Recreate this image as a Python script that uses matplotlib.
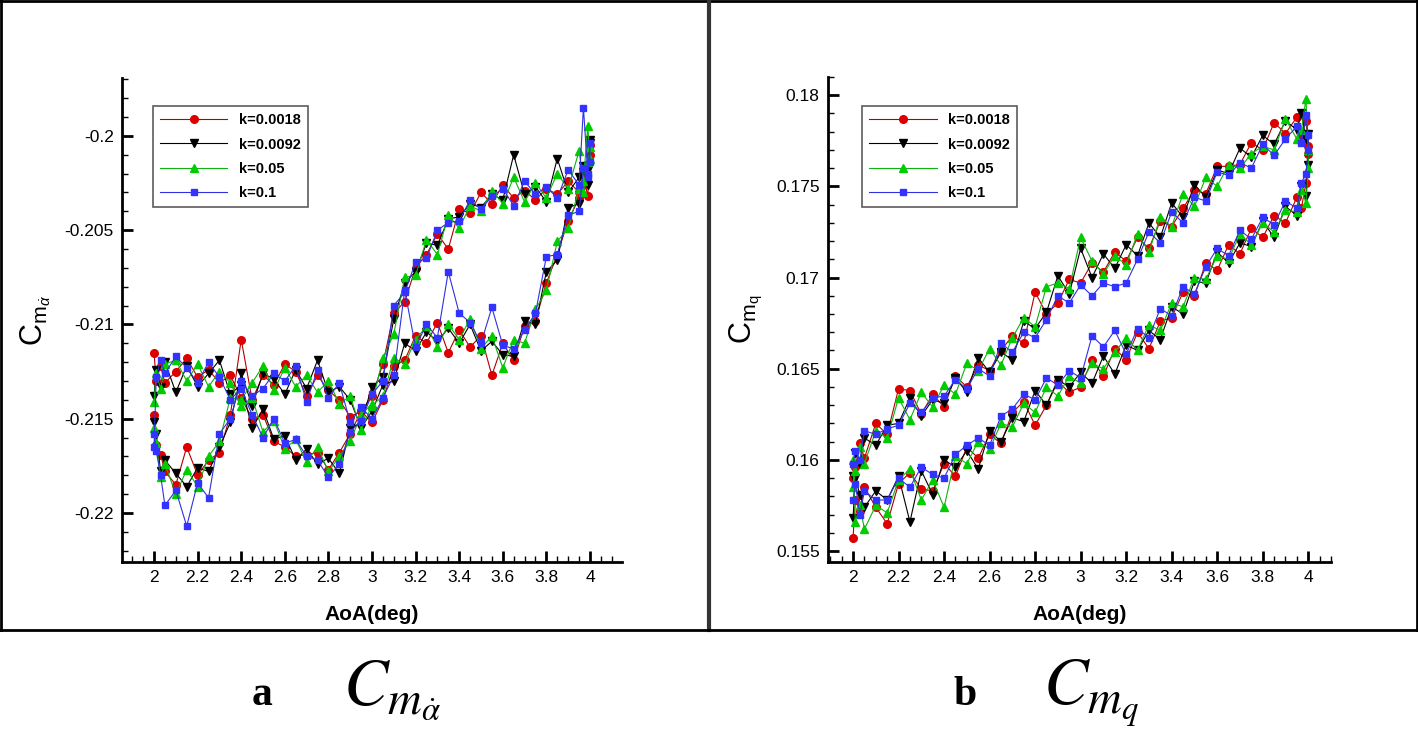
import matplotlib
matplotlib.use("Agg")
import matplotlib.pyplot as plt
from matplotlib.lines import Line2D
from matplotlib.ticker import MultipleLocator, FuncFormatter

plt.rcParams['font.family'] = ['Liberation Sans', 'DejaVu Sans']
plt.rcParams['mathtext.fontset'] = 'custom'
plt.rcParams['mathtext.rm'] = 'Liberation Sans'
plt.rcParams['mathtext.it'] = 'Liberation Sans:italic'

# AoA samples (deg), up-stroke 2 -> 4; down-stroke runs back over the same points
aoa_up = [2.00, 2.01, 2.03, 2.05, 2.10, 2.15, 2.20, 2.25, 2.30, 2.35, 2.40, 2.45,
          2.50, 2.55, 2.60, 2.65, 2.70, 2.75, 2.80, 2.85, 2.90, 2.95, 3.00, 3.05,
          3.10, 3.15, 3.20, 3.25, 3.30, 3.35, 3.40, 3.45, 3.50, 3.55, 3.60, 3.65,
          3.70, 3.75, 3.80, 3.85, 3.90, 3.95, 3.97, 3.99, 4.00]
aoa_down = aoa_up[::-1]

labels = ['k=0.0018', 'k=0.0092', 'k=0.05', 'k=0.1']

# ---- panel a : Cm_alpha_dot ----
cma_k0018_up = [-0.2115, -0.2130, -0.2122, -0.2131, -0.2125, -0.2118, -0.2128, -0.2124, -0.2131,
                -0.2127, -0.2139, -0.2150, -0.2148, -0.2162, -0.2165, -0.2170, -0.2169, -0.2168,
                -0.2177, -0.2168, -0.2158, -0.2146, -0.2138, -0.2121, -0.2094, -0.2088, -0.2070,
                -0.2063, -0.2052, -0.2060, -0.2039, -0.2041, -0.2030, -0.2036, -0.2026, -0.2033,
                -0.2029, -0.2034, -0.2028, -0.2031, -0.2024, -0.2030, -0.2021, -0.2032, -0.2010]
cma_k0018_down = [-0.2005, -0.2015, -0.2026, -0.2033, -0.2045, -0.2063, -0.2078, -0.2098, -0.2101,
                  -0.2119, -0.2110, -0.2127, -0.2106, -0.2112, -0.2103, -0.2115, -0.2099, -0.2110,
                  -0.2106, -0.2119, -0.2122, -0.2140, -0.2152, -0.2146, -0.2149, -0.2140, -0.2135,
                  -0.2127, -0.2138, -0.2125, -0.2121, -0.2132, -0.2127, -0.2140, -0.2108, -0.2148,
                  -0.2168, -0.2172, -0.2180, -0.2165, -0.2185, -0.2178, -0.2169, -0.2164, -0.2148]
cma_k0092_up = [-0.2138, -0.2124, -0.2133, -0.2120, -0.2136, -0.2122, -0.2133, -0.2126, -0.2119,
                -0.2137, -0.2132, -0.2155, -0.2145, -0.2161, -0.2159, -0.2172, -0.2166, -0.2174,
                -0.2171, -0.2179, -0.2155, -0.2152, -0.2133, -0.2128, -0.2097, -0.2078, -0.2072,
                -0.2057, -0.2058, -0.2044, -0.2043, -0.2036, -0.2038, -0.2031, -0.2034, -0.2010,
                -0.2031, -0.2027, -0.2035, -0.2012, -0.2030, -0.2022, -0.2016, -0.2026, -0.2004]
cma_k0092_down = [-0.2002, -0.2018, -0.2019, -0.2036, -0.2038, -0.2066, -0.2072, -0.2100, -0.2098,
                  -0.2117, -0.2116, -0.2109, -0.2114, -0.2100, -0.2110, -0.2102, -0.2109, -0.2104,
                  -0.2114, -0.2110, -0.2130, -0.2132, -0.2146, -0.2155, -0.2140, -0.2133, -0.2136,
                  -0.2119, -0.2134, -0.2124, -0.2137, -0.2129, -0.2126, -0.2143, -0.2126, -0.2152,
                  -0.2165, -0.2178, -0.2176, -0.2186, -0.2179, -0.2172, -0.2178, -0.2158, -0.2152]
cma_k005_up = [-0.2141, -0.2126, -0.2134, -0.2121, -0.2119, -0.2130, -0.2121, -0.2133, -0.2125,
               -0.2131, -0.2143, -0.2139, -0.2157, -0.2151, -0.2166, -0.2161, -0.2173, -0.2165,
               -0.2178, -0.2170, -0.2162, -0.2148, -0.2142, -0.2118, -0.2105, -0.2075, -0.2074,
               -0.2055, -0.2063, -0.2042, -0.2049, -0.2037, -0.2040, -0.2029, -0.2036, -0.2022,
               -0.2035, -0.2025, -0.2033, -0.2020, -0.2028, -0.2008, -0.2024, -0.1995, -0.2012]
cma_k005_down = [-0.2006, -0.2014, -0.2030, -0.2028, -0.2049, -0.2056, -0.2082, -0.2092, -0.2110,
                 -0.2108, -0.2123, -0.2106, -0.2113, -0.2097, -0.2108, -0.2100, -0.2112, -0.2101,
                 -0.2108, -0.2121, -0.2118, -0.2138, -0.2143, -0.2156, -0.2138, -0.2142, -0.2130,
                 -0.2136, -0.2127, -0.2133, -0.2123, -0.2135, -0.2122, -0.2131, -0.2140, -0.2139,
                 -0.2162, -0.2170, -0.2186, -0.2177, -0.2190, -0.2174, -0.2181, -0.2163, -0.2155]
cma_k01_up = [-0.2165, -0.2128, -0.2119, -0.2126, -0.2117, -0.2123, -0.2131, -0.2120, -0.2128,
              -0.2140, -0.2134, -0.2148, -0.2160, -0.2150, -0.2163, -0.2161, -0.2170, -0.2172,
              -0.2181, -0.2174, -0.2157, -0.2151, -0.2137, -0.2130, -0.2090, -0.2083, -0.2067,
              -0.2065, -0.2050, -0.2046, -0.2045, -0.2034, -0.2039, -0.2032, -0.2028, -0.2037,
              -0.2024, -0.2031, -0.2027, -0.2033, -0.2018, -0.2026, -0.1985, -0.2020, -0.2014]
cma_k01_down = [-0.2004, -0.2022, -0.2017, -0.2040, -0.2042, -0.2063, -0.2064, -0.2094, -0.2103,
                -0.2113, -0.2111, -0.2091, -0.2110, -0.2099, -0.2094, -0.2072, -0.2107, -0.2100,
                -0.2112, -0.2082, -0.2127, -0.2139, -0.2150, -0.2144, -0.2152, -0.2131, -0.2139,
                -0.2124, -0.2141, -0.2122, -0.2130, -0.2126, -0.2134, -0.2138, -0.2130, -0.2150,
                -0.2158, -0.2192, -0.2184, -0.2207, -0.2188, -0.2196, -0.2180, -0.2167, -0.2158]

# ---- panel b : Cm_q ----
cmq_k0018_up = [0.1557, 0.1578, 0.1572, 0.1585, 0.1574, 0.1565, 0.1587, 0.1593, 0.1584,
                0.1583, 0.1598, 0.1591, 0.1607, 0.1601, 0.1614, 0.1609, 0.1626, 0.1632,
                0.1619, 0.1630, 0.1643, 0.1637, 0.1640, 0.1655, 0.1646, 0.1661, 0.1655,
                0.1670, 0.1661, 0.1676, 0.1678, 0.1692, 0.1690, 0.1708, 0.1704, 0.1718,
                0.1713, 0.1727, 0.1722, 0.1734, 0.1730, 0.1744, 0.1738, 0.1752, 0.1768]
cmq_k0018_down = [0.1772, 0.1786, 0.1778, 0.1788, 0.1779, 0.1785, 0.1770, 0.1774, 0.1762,
                  0.1761, 0.1761, 0.1746, 0.1748, 0.1738, 0.1728, 0.1731, 0.1716, 0.1722,
                  0.1709, 0.1714, 0.1703, 0.1708, 0.1697, 0.1699, 0.1686, 0.1680, 0.1692,
                  0.1664, 0.1668, 0.1660, 0.1649, 0.1652, 0.1640, 0.1646, 0.1629, 0.1636,
                  0.1625, 0.1638, 0.1639, 0.1614, 0.1620, 0.1601, 0.1609, 0.1596, 0.1590]
cmq_k0092_up = [0.1568, 0.1590, 0.1581, 0.1574, 0.1583, 0.1578, 0.1591, 0.1566, 0.1594,
                0.1581, 0.1600, 0.1596, 0.1605, 0.1595, 0.1616, 0.1610, 0.1623, 0.1621,
                0.1638, 0.1630, 0.1644, 0.1640, 0.1648, 0.1642, 0.1657, 0.1647, 0.1663,
                0.1660, 0.1671, 0.1666, 0.1684, 0.1680, 0.1698, 0.1697, 0.1714, 0.1708,
                0.1719, 0.1717, 0.1731, 0.1722, 0.1739, 0.1734, 0.1750, 0.1745, 0.1762]
cmq_k0092_down = [0.1779, 0.1776, 0.1790, 0.1781, 0.1786, 0.1773, 0.1778, 0.1766, 0.1771,
                  0.1757, 0.1759, 0.1744, 0.1751, 0.1733, 0.1741, 0.1722, 0.1730, 0.1712,
                  0.1718, 0.1705, 0.1713, 0.1700, 0.1716, 0.1691, 0.1701, 0.1681, 0.1672,
                  0.1676, 0.1655, 0.1659, 0.1648, 0.1656, 0.1637, 0.1645, 0.1631, 0.1633,
                  0.1624, 0.1634, 0.1620, 0.1619, 0.1608, 0.1612, 0.1598, 0.1604, 0.1591]
cmq_k005_up = [0.1600, 0.1566, 0.1575, 0.1562, 0.1575, 0.1571, 0.1589, 0.1595, 0.1578,
               0.1589, 0.1574, 0.1602, 0.1598, 0.1610, 0.1606, 0.1620, 0.1618, 0.1631,
               0.1626, 0.1640, 0.1635, 0.1646, 0.1642, 0.1653, 0.1650, 0.1659, 0.1667,
               0.1660, 0.1674, 0.1671, 0.1686, 0.1684, 0.1700, 0.1699, 0.1712, 0.1710,
               0.1724, 0.1718, 0.1730, 0.1725, 0.1737, 0.1736, 0.1748, 0.1741, 0.1760]
cmq_k005_down = [0.1770, 0.1798, 0.1781, 0.1776, 0.1787, 0.1770, 0.1772, 0.1768, 0.1760,
                 0.1762, 0.1750, 0.1755, 0.1739, 0.1746, 0.1728, 0.1733, 0.1714, 0.1724,
                 0.1707, 0.1712, 0.1702, 0.1709, 0.1722, 0.1694, 0.1697, 0.1695, 0.1673,
                 0.1678, 0.1667, 0.1652, 0.1661, 0.1649, 0.1653, 0.1636, 0.1641, 0.1629,
                 0.1637, 0.1622, 0.1634, 0.1612, 0.1616, 0.1598, 0.1607, 0.1594, 0.1585]
cmq_k01_up = [0.1578, 0.1587, 0.1570, 0.1583, 0.1578, 0.1578, 0.1590, 0.1585, 0.1596,
              0.1592, 0.1590, 0.1603, 0.1608, 0.1612, 0.1608, 0.1624, 0.1628, 0.1636,
              0.1633, 0.1645, 0.1641, 0.1649, 0.1645, 0.1668, 0.1662, 0.1671, 0.1658,
              0.1672, 0.1667, 0.1683, 0.1679, 0.1695, 0.1691, 0.1706, 0.1716, 0.1712,
              0.1726, 0.1721, 0.1733, 0.1729, 0.1742, 0.1738, 0.1752, 0.1757, 0.1770]
cmq_k01_down = [0.1778, 0.1789, 0.1774, 0.1783, 0.1776, 0.1767, 0.1773, 0.1760, 0.1763,
                0.1756, 0.1758, 0.1742, 0.1744, 0.1730, 0.1736, 0.1719, 0.1725, 0.1710,
                0.1697, 0.1695, 0.1697, 0.1690, 0.1696, 0.1686, 0.1690, 0.1677, 0.1667,
                0.1670, 0.1659, 0.1664, 0.1646, 0.1650, 0.1639, 0.1644, 0.1635, 0.1634,
                0.1626, 0.1631, 0.1619, 0.1617, 0.1614, 0.1616, 0.1600, 0.1605, 0.1598]

styles = [
    dict(color='#b00000', marker='o', mfc='#dd0000', mec='#dd0000', ms=5.5),
    dict(color='#000000', marker='v', mfc='#000000', mec='#000000', ms=5.5),
    dict(color='#10b010', marker='^', mfc='#00cc00', mec='#00cc00', ms=6),
    dict(color='#3030e0', marker='s', mfc='#3333ff', mec='#3333ff', ms=5),
]

fig = plt.figure(figsize=(14.18, 7.29), dpi=100)
fig.patch.set_facecolor('white')

ax1 = fig.add_axes([122 / 1418, 1 - 562 / 729, 500 / 1418, 484 / 729])
ax2 = fig.add_axes([828 / 1418, 1 - 562 / 729, 503 / 1418, 485 / 729])

panel_a = [(cma_k0018_up, cma_k0018_down), (cma_k0092_up, cma_k0092_down),
           (cma_k005_up, cma_k005_down), (cma_k01_up, cma_k01_down)]
panel_b = [(cmq_k0018_up, cmq_k0018_down), (cmq_k0092_up, cmq_k0092_down),
           (cmq_k005_up, cmq_k005_down), (cmq_k01_up, cmq_k01_down)]

fmt = FuncFormatter(lambda v, p: '%g' % round(v, 6))

for ax, series in [(ax1, panel_a), (ax2, panel_b)]:
    for (up, down), lab, st in zip(series, labels, styles):
        ax.plot(aoa_up + aoa_down, up + down, lw=0.8, label=lab, **st)
    for s in ['top', 'right']:
        ax.spines[s].set_visible(False)
    for s in ['left', 'bottom']:
        ax.spines[s].set_linewidth(2)
    ax.xaxis.set_major_locator(MultipleLocator(0.2))
    ax.xaxis.set_minor_locator(MultipleLocator(0.05))
    ax.yaxis.set_major_locator(MultipleLocator(0.005))
    ax.yaxis.set_minor_locator(MultipleLocator(0.001))
    ax.xaxis.set_major_formatter(fmt)
    ax.yaxis.set_major_formatter(fmt)
    ax.tick_params(which='major', direction='in', length=8, width=2, labelsize=12.5, pad=6)
    ax.tick_params(which='minor', direction='in', length=4, width=1)
    ax.set_xlabel('AoA(deg)', fontsize=15, fontweight='bold', labelpad=14)
    leg = ax.legend(loc='upper left', frameon=True, fancybox=False, numpoints=1,
                    handlelength=4.6, handletextpad=0.8, labelspacing=0.7,
                    borderpad=0.5, borderaxespad=0,
                    prop={'size': 10.5, 'weight': 'bold'})
    leg.get_frame().set_edgecolor('#333333')
    leg.get_frame().set_linewidth(1.2)

ax1.set_xlim(1.853, 4.147)
ax1.set_ylim(-0.2226, -0.19693)
ax2.set_xlim(1.89, 4.10)
ax2.set_ylim(0.1544, 0.1810)

ax1.legend_.set_bbox_to_anchor((0.062, 0.942), transform=ax1.transAxes)
ax2.legend_.set_bbox_to_anchor((0.068, 0.940), transform=ax2.transAxes)

ax1.set_ylabel(r'$\mathrm{C}_{\mathrm{m}_{\dot{\alpha}}}$', fontsize=22, labelpad=8)
ax2.set_ylabel(r'$\mathrm{C}_{\mathrm{m}_{\mathrm{q}}}$', fontsize=22, labelpad=8)

# panel frames
yb = 1 - 630 / 729
for xs, ys, lw, c in [([0, 1], [0.999, 0.999], 2, 'black'),
                      ([0.0007, 0.0007], [yb, 1], 2, 'black'),
                      ([0.9993, 0.9993], [yb, 1], 2, 'black'),
                      ([709 / 1418, 709 / 1418], [yb, 1], 3, '#333333'),
                      ([0, 1], [yb, yb], 2, 'black')]:
    fig.add_artist(Line2D(xs, ys, transform=fig.transFigure, lw=lw, color=c))

# captions under the panels
fig.text(262 / 1418, 1 - 705 / 729, 'a', fontsize=30, fontweight='bold',
         family='Liberation Serif', ha='center', va='baseline')
fig.text(343 / 1418, 1 - 705 / 729, r'$C_{m_{\dot{\alpha}}}$', fontsize=48,
         math_fontfamily='stix', ha='left', va='baseline')
fig.text(965 / 1418, 1 - 705 / 729, 'b', fontsize=30, fontweight='bold',
         family='Liberation Serif', ha='center', va='baseline')
fig.text(1043 / 1418, 1 - 705 / 729, r'$C_{m_q}$', fontsize=48,
         math_fontfamily='stix', ha='left', va='baseline')

fig.savefig('out.png', dpi=100, facecolor='white')
